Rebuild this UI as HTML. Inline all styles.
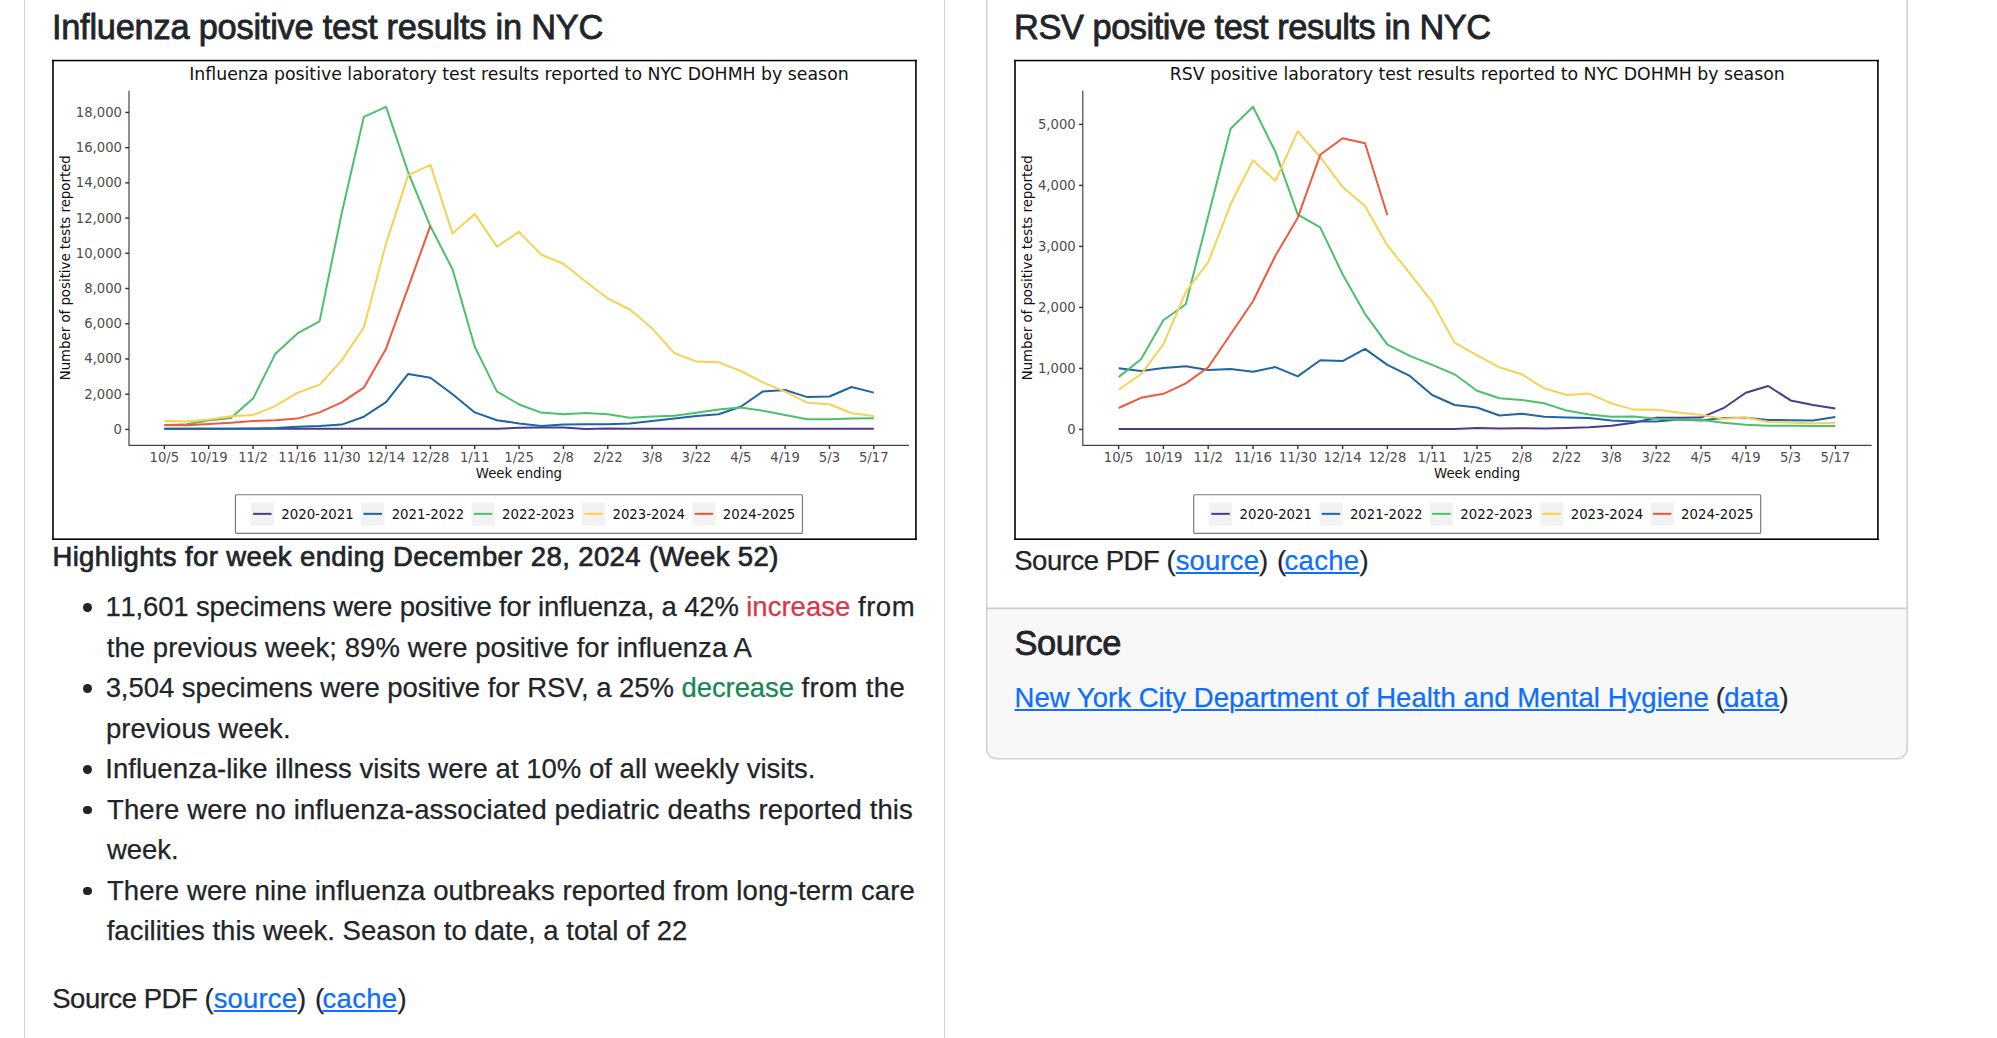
<!DOCTYPE html>
<html lang="en">
<head>
<meta charset="utf-8">
<title>NYC respiratory illness surveillance</title>
<style>
html,body{margin:0;padding:0;background:#fff;}
body{width:1997px;height:1038px;position:relative;overflow:hidden;font-family:"Liberation Sans",sans-serif;color:#212529;font-size:27.5px;line-height:40.5px;}
.card{position:absolute;box-sizing:border-box;border:1px solid #d4d4d4;border-radius:10px;background:#fff;}
#c1{left:24px;top:-40px;width:921px;height:1200px;}
.chart{position:absolute;display:block;}
.ln{position:absolute;margin:0;white-space:nowrap;line-height:40.5px;font-weight:400;-webkit-text-stroke:0.25px currentColor;}
.t5{-webkit-text-stroke:0.8px currentColor;}
.t6{-webkit-text-stroke:0.7px currentColor;}
.b{position:absolute;width:8.8px;height:8.8px;border-radius:50%;background:#212529;}
a{color:#0d6efd;text-decoration:underline;text-decoration-thickness:2px;text-underline-offset:2.3px;}
.up{color:#dc3545;}
.down{color:#198754;}
</style>
</head>
<body>
<div class="card" id="c1"></div>
<svg class="chart" style="left:980px;top:0" width="940" height="770" viewBox="980 0 940 770">
<path d="M986.7 608.4V748.7a10 10 0 0 0 10 10H1897.1a10 10 0 0 0 10 -10V608.4Z" fill="#f8f8f8"/>
<path d="M986.7 -5V748.7a10 10 0 0 0 10 10H1897.1a10 10 0 0 0 10 -10V-5" fill="none" stroke="#d2d2d2" stroke-width="1.6"/>
<path d="M986.7 608.4H1907.1" fill="none" stroke="#d0d0d0" stroke-width="1.6"/>
</svg>

<h5 class="ln t5" style="left:51.88px;top:6.68px;font-size:34.4px"><span style="letter-spacing:-0.2312px">Influenza positive test results in NYC</span></h5>
<svg class="chart" style="left:52px;top:59px" width="865" height="481" viewBox="0 0 865 481" font-family="'DejaVu Sans', sans-serif">
<rect x="0" y="0" width="865" height="481" fill="#fff"/>
<rect x="0.15" y="0.8" width="1.7" height="480.2" fill="#111"/>
<rect x="863.05" y="0.8" width="1.7" height="480.2" fill="#111"/>
<rect x="0.1" y="0.8" width="864.75" height="1.5" fill="#000"/>
<rect x="0.1" y="479.4" width="864.75" height="1.6" fill="#000"/>
<text x="466.95" y="21.1" font-size="17.32" text-anchor="middle" fill="#111">Influenza positive laboratory test results reported to NYC DOHMH by season</text>
<path d="M77.0 31.8V386.35H856.9" fill="none" stroke="#444" stroke-width="1.2"/>
<path d="M73.3 370.4H77.0" stroke="#333" stroke-width="1.45"/>
<text x="70.0" y="374.9" font-size="13.2" text-anchor="end" fill="#4d4d4d">0</text>
<path d="M73.3 335.18H77.0" stroke="#333" stroke-width="1.45"/>
<text x="70.0" y="339.68" font-size="13.2" text-anchor="end" fill="#4d4d4d">2,000</text>
<path d="M73.3 299.96H77.0" stroke="#333" stroke-width="1.45"/>
<text x="70.0" y="304.46" font-size="13.2" text-anchor="end" fill="#4d4d4d">4,000</text>
<path d="M73.3 264.74H77.0" stroke="#333" stroke-width="1.45"/>
<text x="70.0" y="269.24" font-size="13.2" text-anchor="end" fill="#4d4d4d">6,000</text>
<path d="M73.3 229.52H77.0" stroke="#333" stroke-width="1.45"/>
<text x="70.0" y="234.02" font-size="13.2" text-anchor="end" fill="#4d4d4d">8,000</text>
<path d="M73.3 194.3H77.0" stroke="#333" stroke-width="1.45"/>
<text x="70.0" y="198.8" font-size="13.2" text-anchor="end" fill="#4d4d4d">10,000</text>
<path d="M73.3 159.08H77.0" stroke="#333" stroke-width="1.45"/>
<text x="70.0" y="163.58" font-size="13.2" text-anchor="end" fill="#4d4d4d">12,000</text>
<path d="M73.3 123.86H77.0" stroke="#333" stroke-width="1.45"/>
<text x="70.0" y="128.36" font-size="13.2" text-anchor="end" fill="#4d4d4d">14,000</text>
<path d="M73.3 88.64H77.0" stroke="#333" stroke-width="1.45"/>
<text x="70.0" y="93.14" font-size="13.2" text-anchor="end" fill="#4d4d4d">16,000</text>
<path d="M73.3 53.42H77.0" stroke="#333" stroke-width="1.45"/>
<text x="70.0" y="57.92" font-size="13.2" text-anchor="end" fill="#4d4d4d">18,000</text>
<path d="M112.35 386.35V390.1" stroke="#333" stroke-width="1.45"/>
<text x="112.35" y="402.6" font-size="13.2" text-anchor="middle" fill="#4d4d4d">10/5</text>
<path d="M156.69 386.35V390.1" stroke="#333" stroke-width="1.45"/>
<text x="156.69" y="402.6" font-size="13.2" text-anchor="middle" fill="#4d4d4d">10/19</text>
<path d="M201.03 386.35V390.1" stroke="#333" stroke-width="1.45"/>
<text x="201.03" y="402.6" font-size="13.2" text-anchor="middle" fill="#4d4d4d">11/2</text>
<path d="M245.37 386.35V390.1" stroke="#333" stroke-width="1.45"/>
<text x="245.37" y="402.6" font-size="13.2" text-anchor="middle" fill="#4d4d4d">11/16</text>
<path d="M289.71 386.35V390.1" stroke="#333" stroke-width="1.45"/>
<text x="289.71" y="402.6" font-size="13.2" text-anchor="middle" fill="#4d4d4d">11/30</text>
<path d="M334.05 386.35V390.1" stroke="#333" stroke-width="1.45"/>
<text x="334.05" y="402.6" font-size="13.2" text-anchor="middle" fill="#4d4d4d">12/14</text>
<path d="M378.39 386.35V390.1" stroke="#333" stroke-width="1.45"/>
<text x="378.39" y="402.6" font-size="13.2" text-anchor="middle" fill="#4d4d4d">12/28</text>
<path d="M422.73 386.35V390.1" stroke="#333" stroke-width="1.45"/>
<text x="422.73" y="402.6" font-size="13.2" text-anchor="middle" fill="#4d4d4d">1/11</text>
<path d="M467.07 386.35V390.1" stroke="#333" stroke-width="1.45"/>
<text x="467.07" y="402.6" font-size="13.2" text-anchor="middle" fill="#4d4d4d">1/25</text>
<path d="M511.41 386.35V390.1" stroke="#333" stroke-width="1.45"/>
<text x="511.41" y="402.6" font-size="13.2" text-anchor="middle" fill="#4d4d4d">2/8</text>
<path d="M555.75 386.35V390.1" stroke="#333" stroke-width="1.45"/>
<text x="555.75" y="402.6" font-size="13.2" text-anchor="middle" fill="#4d4d4d">2/22</text>
<path d="M600.09 386.35V390.1" stroke="#333" stroke-width="1.45"/>
<text x="600.09" y="402.6" font-size="13.2" text-anchor="middle" fill="#4d4d4d">3/8</text>
<path d="M644.43 386.35V390.1" stroke="#333" stroke-width="1.45"/>
<text x="644.43" y="402.6" font-size="13.2" text-anchor="middle" fill="#4d4d4d">3/22</text>
<path d="M688.77 386.35V390.1" stroke="#333" stroke-width="1.45"/>
<text x="688.77" y="402.6" font-size="13.2" text-anchor="middle" fill="#4d4d4d">4/5</text>
<path d="M733.11 386.35V390.1" stroke="#333" stroke-width="1.45"/>
<text x="733.11" y="402.6" font-size="13.2" text-anchor="middle" fill="#4d4d4d">4/19</text>
<path d="M777.45 386.35V390.1" stroke="#333" stroke-width="1.45"/>
<text x="777.45" y="402.6" font-size="13.2" text-anchor="middle" fill="#4d4d4d">5/3</text>
<path d="M821.79 386.35V390.1" stroke="#333" stroke-width="1.45"/>
<text x="821.79" y="402.6" font-size="13.2" text-anchor="middle" fill="#4d4d4d">5/17</text>
<text x="466.95" y="418.6" font-size="13.3" text-anchor="middle" fill="#111">Week ending</text>
<text transform="translate(18.05 208.75) rotate(-90)" font-size="13.3" text-anchor="middle" fill="#111">Number of positive tests reported</text>
<polyline points="112.35,369.75 134.52,369.75 156.69,369.75 178.86,369.75 201.03,369.75 223.2,369.75 245.37,369.75 267.54,369.75 289.71,369.75 311.88,369.75 334.05,369.75 356.22,369.75 378.39,369.75 400.56,369.75 422.73,369.75 444.9,369.75 467.07,368.8 489.24,368.4 511.41,368.6 533.58,370.0 555.75,369.5 577.92,369.8 600.09,369.8 622.26,369.8 644.43,369.8 666.6,369.8 688.77,369.8 710.94,369.8 733.11,369.8 755.28,369.8 777.45,369.8 799.62,369.8 821.79,369.8" fill="none" stroke="#4a3b91" stroke-width="2" stroke-linejoin="round"/>
<polyline points="112.35,369.7 134.52,369.7 156.69,369.7 178.86,369.7 201.03,369.6 223.2,369.1 245.37,367.8 267.54,367.1 289.71,365.6 311.88,357.7 334.05,343.2 356.22,314.9 378.39,318.7 400.56,335.2 422.73,353.4 444.9,361.3 467.07,364.4 489.24,366.9 511.41,365.5 533.58,365.3 555.75,365.3 577.92,364.55 600.09,362.1 622.26,359.6 644.43,357.1 666.6,355.2 688.77,347.7 710.94,332.4 733.11,331.0 755.28,338.1 777.45,337.5 799.62,328.0 821.79,333.65" fill="none" stroke="#1f66a3" stroke-width="2" stroke-linejoin="round"/>
<polyline points="112.35,366.3 134.52,365.3 156.69,361.5 178.86,359.0 201.03,339.6 223.2,295.1 245.37,274.45 267.54,262.4 289.71,154.3 311.88,57.8 334.05,47.9 356.22,113.5 378.39,167.3 400.56,210.3 422.73,287.8 444.9,332.4 467.07,345.5 489.24,353.6 511.41,355.2 533.58,354.0 555.75,355.2 577.92,358.65 600.09,357.5 622.26,356.7 644.43,353.7 666.6,350.5 688.77,348.6 710.94,351.7 733.11,355.9 755.28,360.2 777.45,360.2 799.62,359.4 821.79,359.3" fill="none" stroke="#4dc06c" stroke-width="2" stroke-linejoin="round"/>
<polyline points="112.35,362.1 134.52,362.4 156.69,360.6 178.86,357.2 201.03,356.1 223.2,347.1 245.37,333.9 267.54,325.8 289.71,301.4 311.88,268.2 334.05,184.6 356.22,116.1 378.39,105.8 400.56,174.6 422.73,154.9 444.9,187.6 467.07,172.9 489.24,195.7 511.41,204.8 533.58,222.5 555.75,239.5 577.92,250.5 600.09,269.3 622.26,294.05 644.43,302.6 666.6,303.35 688.77,312.0 710.94,323.3 733.11,332.55 755.28,343.65 777.45,345.25 799.62,354.2 821.79,357.1" fill="none" stroke="#f8d154" stroke-width="2" stroke-linejoin="round"/>
<polyline points="112.35,365.9 134.52,366.3 156.69,365.0 178.86,363.8 201.03,362.1 223.2,361.3 245.37,359.6 267.54,353.4 289.71,343.3 311.88,328.7 334.05,289.7 356.22,228.3 378.39,166.7" fill="none" stroke="#ef5a3c" stroke-width="2" stroke-linejoin="round"/>
<rect x="183.45" y="435.75" width="567.0" height="38.6" rx="1.3" fill="#fff" stroke="#7a7a7a" stroke-width="1.2"/>
<rect x="198.85" y="443.55" width="23" height="23" fill="#f2f2f2"/>
<path d="M201.05 454.85H219.55" stroke="#4a3b91" stroke-width="2"/>
<text x="229.25" y="459.8" font-size="13.3" fill="#111">2020-2021</text>
<rect x="309.25" y="443.55" width="23" height="23" fill="#f2f2f2"/>
<path d="M311.45 454.85H329.95" stroke="#1f66a3" stroke-width="2"/>
<text x="339.65" y="459.8" font-size="13.3" fill="#111">2021-2022</text>
<rect x="419.65" y="443.55" width="23" height="23" fill="#f2f2f2"/>
<path d="M421.85 454.85H440.35" stroke="#4dc06c" stroke-width="2"/>
<text x="450.05" y="459.8" font-size="13.3" fill="#111">2022-2023</text>
<rect x="530.05" y="443.55" width="23" height="23" fill="#f2f2f2"/>
<path d="M532.25 454.85H550.75" stroke="#f8d154" stroke-width="2"/>
<text x="560.45" y="459.8" font-size="13.3" fill="#111">2023-2024</text>
<rect x="640.45" y="443.55" width="23" height="23" fill="#f2f2f2"/>
<path d="M642.65 454.85H661.15" stroke="#ef5a3c" stroke-width="2"/>
<text x="670.85" y="459.8" font-size="13.3" fill="#111">2024-2025</text>
</svg>
<h6 class="ln t6" style="left:52.4px;top:537.42px;font-size:27.5px"><span style="letter-spacing:0.3821px">Highlights for week ending December 28, 2024 (Week 52)</span></h6>
<p class="ln" style="left:105.384px;top:587.42px;font-size:27.5px"><span style="letter-spacing:-0.1704px;font-kerning:none">11,601 specimens were positive for influenza, a 42% </span><span class="up" style="letter-spacing:0.0238px">increase </span><span style="letter-spacing:0.5148px">from</span></p>
<p class="ln" style="left:106.69px;top:627.92px;font-size:27.5px"><span style="letter-spacing:0.0603px">the previous week; 89% were positive for influenza A</span></p>
<p class="ln" style="left:105.631px;top:668.42px;font-size:27.5px"><span style="letter-spacing:-0.0546px">3,504 specimens were positive for RSV, a 25% </span><span class="down" style="letter-spacing:-0.0923px">decrease </span><span style="letter-spacing:0.3513px">from the</span></p>
<p class="ln" style="left:105.9px;top:708.92px;font-size:27.5px"><span style="letter-spacing:0.0989px">previous week.</span></p>
<p class="ln" style="left:105.263px;top:749.42px;font-size:27.5px"><span style="letter-spacing:0.0174px">Influenza-like illness visits were at 10% of all weekly visits.</span></p>
<p class="ln" style="left:106.97px;top:789.92px;font-size:27.5px"><span style="letter-spacing:0.1236px">There were no influenza-associated pediatric deaths reported this</span></p>
<p class="ln" style="left:106.959px;top:830.42px;font-size:27.5px"><span style="letter-spacing:-0.029px">week.</span></p>
<p class="ln" style="left:106.97px;top:870.82px;font-size:27.5px"><span style="letter-spacing:0.0837px">There were nine influenza outbreaks reported from long-term care</span></p>
<p class="ln" style="left:106.69px;top:911.32px;font-size:27.5px"><span style="letter-spacing:0.026px">facilities this week. Season to date, a total of 22</span></p>
<p class="ln" style="left:52.258px;top:979.02px;font-size:27.5px"><span style="letter-spacing:-0.4815px">Source PDF </span><span style="letter-spacing:0.1647px">(</span><a style="letter-spacing:0.1406px">source</a><span style="letter-spacing:0.5348px">) </span><span style="letter-spacing:-1.6489px">(</span><a style="letter-spacing:0.3237px">cache</a><span style="letter-spacing:-2.1577px">)</span></p>
<i class="b" style="left:83.2px;top:603.2px"></i><i class="b" style="left:83.2px;top:684.2px"></i><i class="b" style="left:83.2px;top:765.2px"></i><i class="b" style="left:83.2px;top:805.7px"></i><i class="b" style="left:83.2px;top:886.6px"></i>

<h5 class="ln t5" style="left:1014.042px;top:6.68px;font-size:34.4px"><span style="letter-spacing:-0.456px">RSV positive test results in NYC</span></h5>
<svg class="chart" style="left:1014px;top:59px" width="865" height="481" viewBox="0 0 865 481" font-family="'DejaVu Sans', sans-serif">
<rect x="0" y="0" width="865" height="481" fill="#fff"/>
<rect x="0.15" y="0.8" width="1.7" height="480.2" fill="#111"/>
<rect x="863.05" y="0.8" width="1.7" height="480.2" fill="#111"/>
<rect x="0.1" y="0.8" width="864.75" height="1.5" fill="#000"/>
<rect x="0.1" y="479.4" width="864.75" height="1.6" fill="#000"/>
<text x="463.2" y="21.1" font-size="17.32" text-anchor="middle" fill="#111">RSV positive laboratory test results reported to NYC DOHMH by season</text>
<path d="M68.8 31.8V386.35H857.6" fill="none" stroke="#444" stroke-width="1.2"/>
<path d="M65.1 370.4H68.8" stroke="#333" stroke-width="1.45"/>
<text x="61.7" y="374.9" font-size="13.2" text-anchor="end" fill="#4d4d4d">0</text>
<path d="M65.1 309.4H68.8" stroke="#333" stroke-width="1.45"/>
<text x="61.7" y="313.9" font-size="13.2" text-anchor="end" fill="#4d4d4d">1,000</text>
<path d="M65.1 248.4H68.8" stroke="#333" stroke-width="1.45"/>
<text x="61.7" y="252.9" font-size="13.2" text-anchor="end" fill="#4d4d4d">2,000</text>
<path d="M65.1 187.4H68.8" stroke="#333" stroke-width="1.45"/>
<text x="61.7" y="191.9" font-size="13.2" text-anchor="end" fill="#4d4d4d">3,000</text>
<path d="M65.1 126.4H68.8" stroke="#333" stroke-width="1.45"/>
<text x="61.7" y="130.9" font-size="13.2" text-anchor="end" fill="#4d4d4d">4,000</text>
<path d="M65.1 65.4H68.8" stroke="#333" stroke-width="1.45"/>
<text x="61.7" y="69.9" font-size="13.2" text-anchor="end" fill="#4d4d4d">5,000</text>
<path d="M104.6 386.35V390.1" stroke="#333" stroke-width="1.45"/>
<text x="104.6" y="402.6" font-size="13.2" text-anchor="middle" fill="#4d4d4d">10/5</text>
<path d="M149.4 386.35V390.1" stroke="#333" stroke-width="1.45"/>
<text x="149.4" y="402.6" font-size="13.2" text-anchor="middle" fill="#4d4d4d">10/19</text>
<path d="M194.2 386.35V390.1" stroke="#333" stroke-width="1.45"/>
<text x="194.2" y="402.6" font-size="13.2" text-anchor="middle" fill="#4d4d4d">11/2</text>
<path d="M239.0 386.35V390.1" stroke="#333" stroke-width="1.45"/>
<text x="239.0" y="402.6" font-size="13.2" text-anchor="middle" fill="#4d4d4d">11/16</text>
<path d="M283.8 386.35V390.1" stroke="#333" stroke-width="1.45"/>
<text x="283.8" y="402.6" font-size="13.2" text-anchor="middle" fill="#4d4d4d">11/30</text>
<path d="M328.6 386.35V390.1" stroke="#333" stroke-width="1.45"/>
<text x="328.6" y="402.6" font-size="13.2" text-anchor="middle" fill="#4d4d4d">12/14</text>
<path d="M373.4 386.35V390.1" stroke="#333" stroke-width="1.45"/>
<text x="373.4" y="402.6" font-size="13.2" text-anchor="middle" fill="#4d4d4d">12/28</text>
<path d="M418.2 386.35V390.1" stroke="#333" stroke-width="1.45"/>
<text x="418.2" y="402.6" font-size="13.2" text-anchor="middle" fill="#4d4d4d">1/11</text>
<path d="M463.0 386.35V390.1" stroke="#333" stroke-width="1.45"/>
<text x="463.0" y="402.6" font-size="13.2" text-anchor="middle" fill="#4d4d4d">1/25</text>
<path d="M507.8 386.35V390.1" stroke="#333" stroke-width="1.45"/>
<text x="507.8" y="402.6" font-size="13.2" text-anchor="middle" fill="#4d4d4d">2/8</text>
<path d="M552.6 386.35V390.1" stroke="#333" stroke-width="1.45"/>
<text x="552.6" y="402.6" font-size="13.2" text-anchor="middle" fill="#4d4d4d">2/22</text>
<path d="M597.4 386.35V390.1" stroke="#333" stroke-width="1.45"/>
<text x="597.4" y="402.6" font-size="13.2" text-anchor="middle" fill="#4d4d4d">3/8</text>
<path d="M642.2 386.35V390.1" stroke="#333" stroke-width="1.45"/>
<text x="642.2" y="402.6" font-size="13.2" text-anchor="middle" fill="#4d4d4d">3/22</text>
<path d="M687.0 386.35V390.1" stroke="#333" stroke-width="1.45"/>
<text x="687.0" y="402.6" font-size="13.2" text-anchor="middle" fill="#4d4d4d">4/5</text>
<path d="M731.8 386.35V390.1" stroke="#333" stroke-width="1.45"/>
<text x="731.8" y="402.6" font-size="13.2" text-anchor="middle" fill="#4d4d4d">4/19</text>
<path d="M776.6 386.35V390.1" stroke="#333" stroke-width="1.45"/>
<text x="776.6" y="402.6" font-size="13.2" text-anchor="middle" fill="#4d4d4d">5/3</text>
<path d="M821.4 386.35V390.1" stroke="#333" stroke-width="1.45"/>
<text x="821.4" y="402.6" font-size="13.2" text-anchor="middle" fill="#4d4d4d">5/17</text>
<text x="463.2" y="418.6" font-size="13.3" text-anchor="middle" fill="#111">Week ending</text>
<text transform="translate(18.0 208.75) rotate(-90)" font-size="13.3" text-anchor="middle" fill="#111">Number of positive tests reported</text>
<polyline points="104.6,370.1 127.0,370.1 149.4,370.1 171.8,370.1 194.2,370.1 216.6,370.1 239.0,370.1 261.4,370.1 283.8,370.1 306.2,370.1 328.6,370.1 351.0,370.1 373.4,370.1 395.8,370.1 418.2,370.1 440.6,370.1 463.0,369.05 485.4,369.5 507.8,369.3 530.2,369.5 552.6,369.1 575.0,368.3 597.4,366.65 619.8,363.8 642.2,358.8 664.6,358.8 687.0,358.6 709.4,349.2 731.8,333.8 754.2,327.0 776.6,341.4 799.0,346.0 821.4,349.6" fill="none" stroke="#4a3b91" stroke-width="2" stroke-linejoin="round"/>
<polyline points="104.6,309.3 127.0,311.9 149.4,308.9 171.8,307.3 194.2,310.9 216.6,310.1 239.0,312.7 261.4,308.1 283.8,317.35 306.2,301.3 328.6,302.1 351.0,289.9 373.4,305.9 395.8,316.95 418.2,336.0 440.6,346.0 463.0,348.5 485.4,356.5 507.8,354.8 530.2,357.8 552.6,358.4 575.0,359.0 597.4,361.4 619.8,362.4 642.2,362.4 664.6,360.4 687.0,361.6 709.4,359.0 731.8,358.8 754.2,361.0 776.6,361.2 799.0,361.4 821.4,358.0" fill="none" stroke="#1f66a3" stroke-width="2" stroke-linejoin="round"/>
<polyline points="104.6,318.15 127.0,300.3 149.4,261.2 171.8,245.2 194.2,157.3 216.6,69.8 239.0,47.7 261.4,92.8 283.8,155.7 306.2,168.4 328.6,215.3 351.0,254.8 373.4,285.7 395.8,296.9 418.2,305.9 440.6,315.3 463.0,331.8 485.4,339.2 507.8,341.0 530.2,344.2 552.6,351.6 575.0,355.6 597.4,357.8 619.8,357.6 642.2,359.8 664.6,360.4 687.0,361.0 709.4,363.8 731.8,365.8 754.2,366.65 776.6,366.85 799.0,367.05 821.4,367.05" fill="none" stroke="#4dc06c" stroke-width="2" stroke-linejoin="round"/>
<polyline points="104.6,330.8 127.0,315.3 149.4,285.3 171.8,232.9 194.2,203.25 216.6,145.3 239.0,101.2 261.4,121.9 283.8,72.2 306.2,98.2 328.6,127.9 351.0,146.9 373.4,186.4 395.8,214.3 418.2,243.1 440.6,283.7 463.0,296.3 485.4,308.3 507.8,315.3 530.2,329.4 552.6,336.0 575.0,334.6 597.4,344.4 619.8,350.6 642.2,350.8 664.6,353.4 687.0,356.0 709.4,359.8 731.8,358.6 754.2,363.0 776.6,363.4 799.0,364.4 821.4,363.8" fill="none" stroke="#f8d154" stroke-width="2" stroke-linejoin="round"/>
<polyline points="104.6,349.0 127.0,338.8 149.4,334.8 171.8,324.4 194.2,308.3 216.6,275.3 239.0,242.3 261.4,196.7 283.8,158.7 306.2,95.8 328.6,79.2 351.0,84.2 373.4,156.3" fill="none" stroke="#ef5a3c" stroke-width="2" stroke-linejoin="round"/>
<rect x="179.7" y="435.75" width="567.0" height="38.6" rx="1.3" fill="#fff" stroke="#7a7a7a" stroke-width="1.2"/>
<rect x="195.1" y="443.55" width="23" height="23" fill="#f2f2f2"/>
<path d="M197.3 454.85H215.8" stroke="#4a3b91" stroke-width="2"/>
<text x="225.5" y="459.8" font-size="13.3" fill="#111">2020-2021</text>
<rect x="305.5" y="443.55" width="23" height="23" fill="#f2f2f2"/>
<path d="M307.7 454.85H326.2" stroke="#1f66a3" stroke-width="2"/>
<text x="335.9" y="459.8" font-size="13.3" fill="#111">2021-2022</text>
<rect x="415.9" y="443.55" width="23" height="23" fill="#f2f2f2"/>
<path d="M418.1 454.85H436.6" stroke="#4dc06c" stroke-width="2"/>
<text x="446.3" y="459.8" font-size="13.3" fill="#111">2022-2023</text>
<rect x="526.3" y="443.55" width="23" height="23" fill="#f2f2f2"/>
<path d="M528.5 454.85H547.0" stroke="#f8d154" stroke-width="2"/>
<text x="556.7" y="459.8" font-size="13.3" fill="#111">2023-2024</text>
<rect x="636.7" y="443.55" width="23" height="23" fill="#f2f2f2"/>
<path d="M638.9 454.85H657.4" stroke="#ef5a3c" stroke-width="2"/>
<text x="667.1" y="459.8" font-size="13.3" fill="#111">2024-2025</text>
</svg>
<p class="ln" style="left:1014.258px;top:541.27px;font-size:27.5px"><span style="letter-spacing:-0.4815px">Source PDF </span><span style="letter-spacing:0.1647px">(</span><a style="letter-spacing:0.1406px">source</a><span style="letter-spacing:0.5348px">) </span><span style="letter-spacing:-1.6489px">(</span><a style="letter-spacing:0.3237px">cache</a><span style="letter-spacing:-2.1577px">)</span></p>
<h5 class="ln t5" style="left:1014.471px;top:623.03px;font-size:34.4px"><span style="letter-spacing:-0.3881px">Source</span></h5>
<p class="ln" style="left:1014.503px;top:678.32px;font-size:27.5px"><a style="letter-spacing:0.0345px">New York City Department of Health and Mental Hygiene</a><span style="letter-spacing:-0.728px"> (</span><a style="letter-spacing:0.4412px">data</a><span style="letter-spacing:-1.0577px">)</span></p>
</body>
</html>
